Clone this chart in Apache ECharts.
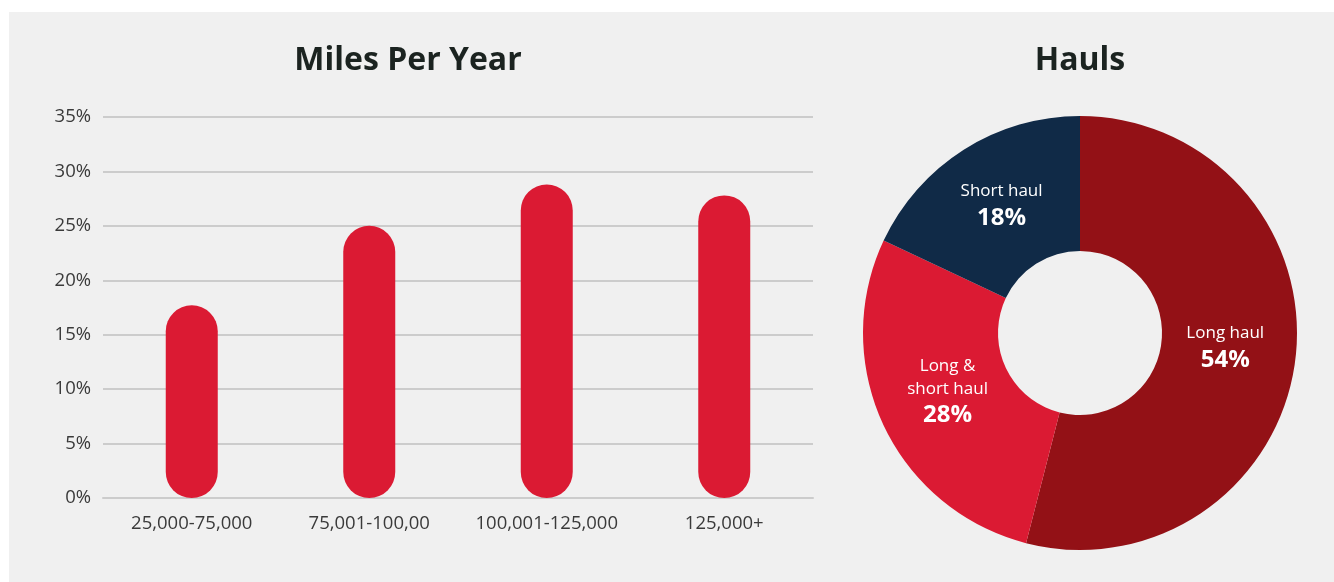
<!DOCTYPE html>
<html>
<head>
<meta charset="utf-8">
<script src="https://cdn.jsdelivr.net/npm/echarts@6/dist/echarts.min.js"></script>
<style>
  html, body { margin: 0; padding: 0; background: #fff; }
  #chart { width: 1334px; height: 582px; }
</style>
</head>
<body>
<div id="chart"></div>
<script>
// miles per year (bar chart)
const mileCategories = ['25,000-75,000', '75,001-100,00', '100,001-125,000', '125,000+'];
const mileValues = [17.7, 25, 28.8, 27.8];

// hauls (donut)
const haulNames = ['Long haul', 'Long &\nshort haul', 'Short haul'];
const haulValues = [54, 28, 18];
const haulColors = ['#931116', '#db1a33', '#102a47'];

const FONT = '"Open Sans", sans-serif';
const PIE_CX = 1080;
const PIE_CY = 333;

const chart = echarts.init(document.getElementById('chart'));

const option = {
  backgroundColor: '#ffffff',
  animation: false,
  graphic: [
    {
      type: 'rect',
      z: -10,
      shape: { x: 9, y: 12, width: 1325, height: 570 },
      style: { fill: '#f0f0f0' },
    },
  ],
  title: [
    {
      text: 'Miles Per Year',
      left: 403,
      top: 40,
      textAlign: 'center',
      textStyle: { fontFamily: FONT, fontSize: 32, fontWeight: 'bold', color: '#1b2320' },
    },
    {
      text: 'Hauls',
      left: 1075,
      top: 40,
      textAlign: 'center',
      textStyle: { fontFamily: FONT, fontSize: 32, fontWeight: 'bold', color: '#1b2320' },
    },
  ],
  grid: { left: 103, top: 117, width: 710, height: 381 },
  xAxis: {
    type: 'category',
    data: mileCategories,
    axisLine: { lineStyle: { color: '#cccccc', width: 2 } },
    axisTick: { show: false },
    axisLabel: { interval: 0, fontFamily: FONT, fontSize: 18.5, color: '#3a3a3a', margin: 16 },
  },
  yAxis: {
    type: 'value',
    min: 0,
    max: 35,
    interval: 5,
    axisLine: { show: false },
    axisTick: { show: false },
    splitLine: { lineStyle: { color: '#cccccc', width: 2 } },
    axisLabel: { fontFamily: FONT, fontSize: 18.5, color: '#3a3a3a', margin: 12, formatter: '{value}%' },
  },
  series: [
    {
      type: 'bar',
      data: mileValues,
      barWidth: 52,
      itemStyle: { color: '#db1a33', borderRadius: 26 },
    },
    {
      type: 'pie',
      center: [PIE_CX, PIE_CY],
      radius: [82, 217],
      startAngle: 90,
      clockwise: true,
      label: {
        show: true,
        position: 'inside',
        formatter: (p) => p.name + '\n{v|' + p.value + '%}',
        fontFamily: FONT,
        fontSize: 17,
        color: '#ffffff',
        lineHeight: 23,
        rich: {
          v: { fontFamily: FONT, fontSize: 24, fontWeight: 'bold', color: '#ffffff', lineHeight: 30 },
        },
      },
      // pull the labels a little toward the hole
      labelLayout: (params) => {
        const r = params.labelRect;
        const lx = r.x + r.width / 2;
        const ly = r.y + r.height / 2;
        return {
          x: PIE_CX + (lx - PIE_CX) * 0.96,
          y: PIE_CY + (ly - PIE_CY) * 0.96 - 3,
          align: 'center',
          verticalAlign: 'middle',
        };
      },
      labelLine: { show: false },
      emphasis: { disabled: true },
      data: haulNames.map((n, i) => ({ name: n, value: haulValues[i], itemStyle: { color: haulColors[i] } })),
    },
  ],
};

chart.setOption(option);
</script>
</body>
</html>
